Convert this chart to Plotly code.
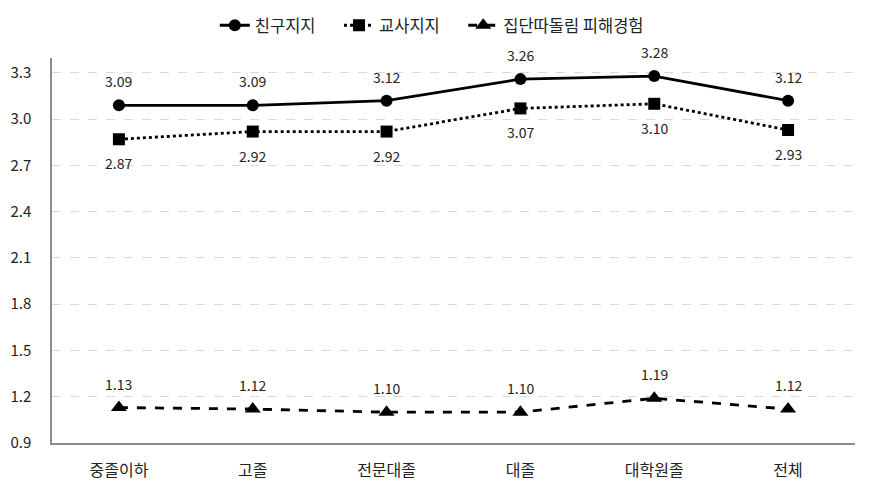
import plotly.graph_objects as go

# --------------------
# Data
# --------------------
categories = ["중졸이하", "고졸", "전문대졸", "대졸", "대학원졸", "전체"]
friend = [3.09, 3.09, 3.12, 3.26, 3.28, 3.12]
teacher = [2.87, 2.92, 2.92, 3.07, 3.10, 2.93]
bullying = [1.13, 1.12, 1.10, 1.10, 1.19, 1.12]
y_ticks = [0.9, 1.2, 1.5, 1.8, 2.1, 2.4, 2.7, 3.0, 3.3]

font_family = "Noto Sans CJK KR, Malgun Gothic, sans-serif"

series = [
    ("친구지지", friend, "solid", "circle", 12, 1),
    ("교사지지", teacher, "dot", "square", 12, -1),
    ("집단따돌림 피해경험", bullying, "dash", "triangle-up", 14, 1),
]

fig = go.Figure()
annotations = []
for i, (name, vals, dash, symbol, msize, side) in enumerate(series):
    fig.add_trace(go.Scatter(
        x=categories, y=vals, mode="lines+markers",
        name=name + ("\u00a0" * 5 if i < len(series) - 1 else ""),
        line=dict(color="black", width=2.8, dash=dash),
        marker=dict(symbol=symbol, size=msize, color="black"),
    ))
    for c, v in zip(categories, vals):
        annotations.append(dict(
            x=c, y=v, text=f"{v:.2f}", showarrow=False,
            yshift=24 * side, font=dict(size=14, color="#222", family=font_family),
        ))

# the page body adds an 8px offset, so margins compensate for it
fig.update_layout(
    width=871, height=494,
    margin=dict(l=44, r=24, t=50, b=59),
    plot_bgcolor="white", paper_bgcolor="white",
    font=dict(family=font_family, size=15, color="#222"),
    legend=dict(orientation="h", x=0.473, xanchor="center", y=1.0, yanchor="top",
                yref="container", font=dict(size=16.5)),
    annotations=annotations,
    showlegend=True,
)

fig.update_xaxes(
    range=[-0.5, 5.5], automargin=False,
    showline=True, linecolor="#8c8c8c", linewidth=1.5, showgrid=False,
    ticks="", tickfont=dict(size=16), ticklabelstandoff=12,
)
fig.update_yaxes(
    range=[0.9, 3.397], tickvals=y_ticks, ticktext=[f"{t:.1f}" for t in y_ticks],
    automargin=False,
    showline=True, linecolor="#8c8c8c", linewidth=1.5,
    showgrid=True, gridcolor="#d9d9d9", griddash="dash", gridwidth=1,
    zeroline=False, ticks="", tickfont=dict(size=15), ticklabelstandoff=16,
)

fig.write_html("out.html")
